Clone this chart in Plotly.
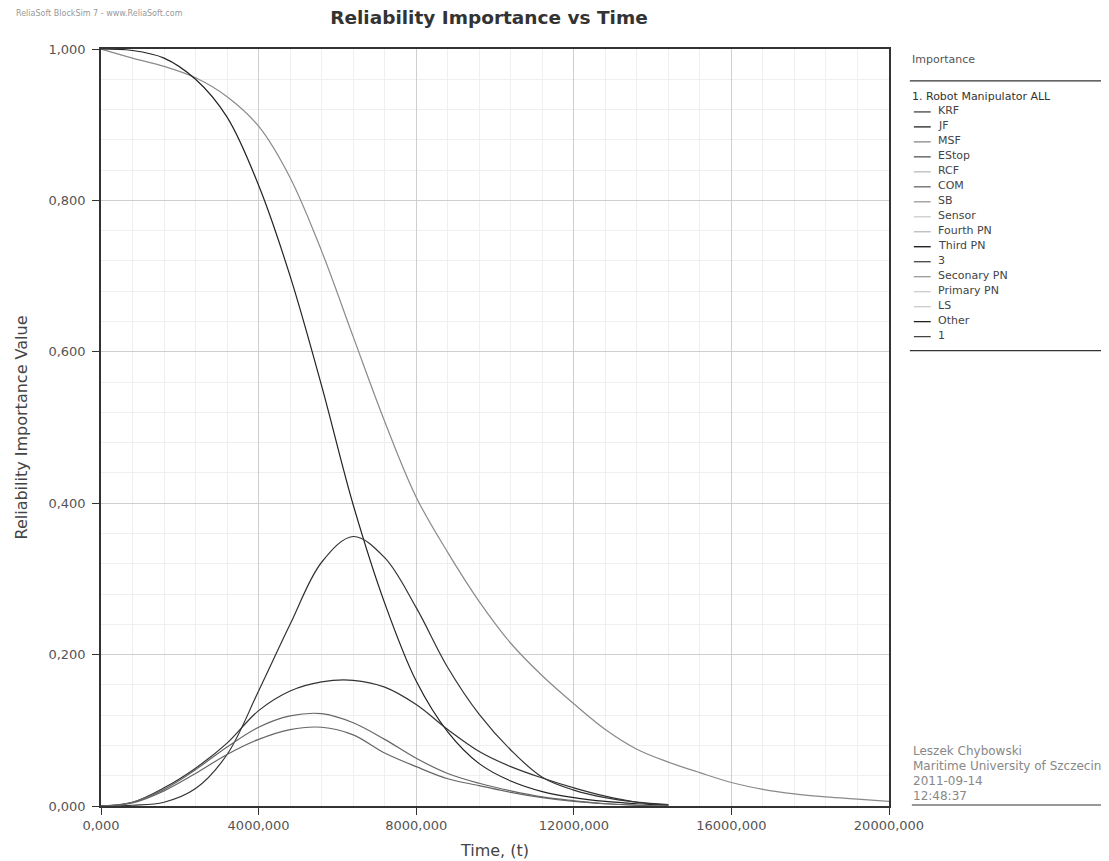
import plotly.graph_objects as go

# ---------------- data ----------------
time_short = [0, 800000, 1600000, 2400000, 3200000, 4000000, 4800000, 5600000, 6400000,
              7200000, 8000000, 8800000, 9600000, 10400000, 11200000, 12000000,
              12800000, 13600000, 14400000]
time_long = time_short + [15200000, 16000000, 16800000, 17600000, 18400000, 19200000, 20000000]

curve_a = [1.0, 0.988, 0.977, 0.962, 0.937, 0.898, 0.83, 0.733, 0.62, 0.508, 0.408, 0.335,
           0.27, 0.215, 0.172, 0.135, 0.101, 0.075, 0.058, 0.044, 0.031, 0.022, 0.016,
           0.012, 0.009, 0.006]
curve_b = [1.0, 0.998, 0.988, 0.96, 0.91, 0.82, 0.70, 0.555, 0.398, 0.268, 0.165, 0.098,
           0.056, 0.033, 0.019, 0.011, 0.006, 0.003, 0.001]
curve_c = [0.0, 0.001, 0.005, 0.023, 0.068, 0.152, 0.24, 0.322, 0.356, 0.328, 0.262, 0.183,
           0.121, 0.074, 0.038, 0.021, 0.011, 0.005, 0.002]
curve_d = [0.0, 0.005, 0.024, 0.05, 0.083, 0.126, 0.152, 0.164, 0.166, 0.157, 0.134, 0.101,
           0.072, 0.052, 0.037, 0.024, 0.013, 0.005, 0.001]
curve_e = [0.0, 0.005, 0.022, 0.048, 0.078, 0.104, 0.119, 0.122, 0.11, 0.088, 0.063, 0.043,
           0.03, 0.02, 0.012, 0.007, 0.003, 0.001, 0.0]
curve_f = [0.0, 0.004, 0.02, 0.043, 0.068, 0.088, 0.101, 0.104, 0.094, 0.07, 0.052, 0.036,
           0.027, 0.018, 0.011, 0.006, 0.003, 0.001, 0.0]

x_tickvals = [0, 4000000, 8000000, 12000000, 16000000, 20000000]
x_ticktext = ["0,000", "4000,000", "8000,000", "12000,000", "16000,000", "20000,000"]
y_tickvals = [0, 0.2, 0.4, 0.6, 0.8, 1.0]
y_ticktext = ["0,000", "0,200", "0,400", "0,600", "0,800", "1,000"]

legend_header = "1. Robot Manipulator ALL"
legend_names = ["KRF", "JF", "MSF", "EStop", "RCF", "COM", "SB", "Sensor", "Fourth PN",
                "Third PN", "3", "Seconary PN", "Primary PN", "LS", "Other", "1"]
legend_colors = ["#444444", "#222222", "#888888", "#555555", "#bbbbbb", "#666666", "#999999",
                 "#cccccc", "#bbbbbb", "#111111", "#444444", "#999999", "#cccccc", "#cccccc",
                 "#222222", "#444444"]
footer_lines = ["Leszek Chybowski", "Maritime University of Szczecin", "2011-09-14", "12:48:37"]

# ---------------- figure ----------------
W, H = 1109, 861
OFF = 8  # page body margin
L, R, T, B = 96, 889, 49, 807  # plot area in screen pixels

def xp(px):
    return (px - L) / (R - L)

def yp(py):
    return (B - py) / (B - T)

FONT = "DejaVu Sans"
fig = go.Figure()

series = [
    (time_long, curve_a, "#8a8a8a"),
    (time_short, curve_b, "#222222"),
    (time_short, curve_c, "#333333"),
    (time_short, curve_d, "#333333"),
    (time_short, curve_e, "#666666"),
    (time_short, curve_f, "#666666"),
]
for xs, ys, col in series:
    fig.add_trace(go.Scatter(x=xs, y=ys, mode="lines", showlegend=False,
                             line=dict(color=col, width=1.2, shape="spline", smoothing=1.0),
                             hoverinfo="skip"))

fig.update_layout(
    width=W, height=H,
    margin=dict(l=L - OFF, r=W - (R - OFF), t=T - OFF, b=H - (B - OFF)),
    paper_bgcolor="white", plot_bgcolor="white",
    font=dict(family=FONT, color="#444444"),
    title=dict(text="<b>Reliability Importance vs Time</b>", x=(489 - OFF) / W, xanchor="center",
               y=1 - (18 - OFF) / H, yanchor="middle",
               font=dict(size=18.5, color="#333333", family=FONT)),
    showlegend=False,
)
fig.update_xaxes(
    range=[0, 20000000], tickvals=x_tickvals, ticktext=x_ticktext,
    showline=True, linecolor="#333333", linewidth=1.5, mirror=True,
    ticks="outside", ticklen=7, tickcolor="#333333",
    showgrid=True, gridcolor="#cfcfcf", gridwidth=1,
    minor=dict(dtick=800000, showgrid=True, gridcolor="#efefef", ticks=""),
    tickfont=dict(size=13, color="#555555"),
    title=dict(text="Time, (t)", font=dict(size=16, color="#444444"), standoff=12),
    zeroline=False,
)
fig.update_yaxes(
    range=[0, 1], tickvals=y_tickvals, ticktext=y_ticktext,
    showline=True, linecolor="#333333", linewidth=1.5, mirror=True,
    ticks="outside", ticklen=7, tickcolor="#333333", ticklabelstandoff=4,
    showgrid=True, gridcolor="#cfcfcf", gridwidth=1,
    minor=dict(dtick=0.04, showgrid=True, gridcolor="#efefef", ticks=""),
    tickfont=dict(size=13, color="#555555"),
    title=dict(text="Reliability Importance Value", font=dict(size=16, color="#444444"), standoff=17),
    zeroline=False,
)

ann = []
shapes = []
# watermark
ann.append(dict(text="ReliaSoft BlockSim 7 - www.ReliaSoft.com", xref="paper", yref="paper",
                x=xp(OFF), y=yp(OFF + 5), xanchor="left", yanchor="middle", showarrow=False,
                font=dict(size=8, color="#999999", family=FONT)))
# legend panel
LX = 910
ann.append(dict(text="Importance", xref="paper", yref="paper", x=xp(LX), y=yp(60),
                xanchor="left", yanchor="middle", showarrow=False,
                font=dict(size=11, color="#555555", family=FONT)))
shapes.append(dict(type="line", xref="paper", yref="paper", x0=xp(LX), x1=xp(1105),
                   y0=yp(81), y1=yp(81), line=dict(color="#333333", width=1.2)))
ann.append(dict(text=legend_header, xref="paper", yref="paper", x=xp(LX), y=yp(97),
                xanchor="left", yanchor="middle", showarrow=False,
                font=dict(size=11, color="#333333", family=FONT)))
step = 15.0
y0 = 111
for i, (nm, col) in enumerate(zip(legend_names, legend_colors)):
    yy = y0 + i * step
    shapes.append(dict(type="line", xref="paper", yref="paper", x0=xp(914), x1=xp(931),
                       y0=yp(yy + 1), y1=yp(yy + 1), line=dict(color=col, width=1.3)))
    ann.append(dict(text=nm, xref="paper", yref="paper", x=xp(936), y=yp(yy),
                    xanchor="left", yanchor="middle", showarrow=False,
                    font=dict(size=11, color="#444444", family=FONT)))
yb = y0 + (len(legend_names) - 1) * step + 15
shapes.append(dict(type="line", xref="paper", yref="paper", x0=xp(LX), x1=xp(1105),
                   y0=yp(yb), y1=yp(yb), line=dict(color="#333333", width=1.2)))
# footer
for i, t in enumerate(footer_lines):
    ann.append(dict(text=t, xref="paper", yref="paper", x=xp(911), y=yp(752 + i * 15),
                    xanchor="left", yanchor="middle", showarrow=False,
                    font=dict(size=12, color="#888888", family=FONT)))
shapes.append(dict(type="line", xref="paper", yref="paper", x0=xp(912), x1=xp(1105),
                   y0=yp(806), y1=yp(806), line=dict(color="#333333", width=1.2)))

fig.update_layout(annotations=ann, shapes=shapes)
fig.write_html("out.html")
